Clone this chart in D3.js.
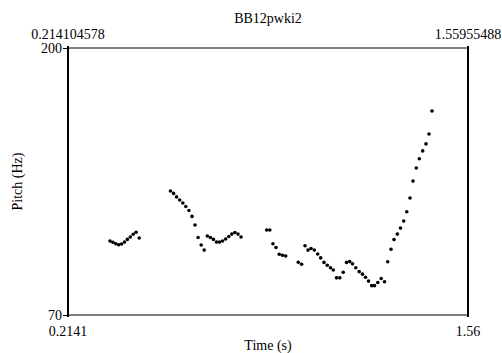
<!DOCTYPE html>
<html>
<head>
<meta charset="utf-8">
<script src="https://cdn.jsdelivr.net/npm/d3@7"></script>
<style>
  body { margin: 0; background: #fff; }
  svg text { font-family: "Liberation Serif", "Times New Roman", serif; font-size: 14px; fill: #000; }
  .axis path { display: none; }
  .axis line { stroke: #000; stroke-width: 1; }
</style>
</head>
<body>
<div id="chart"></div>
<script>
// pitch track (time in s, pitch in Hz)
const title = "BB12pwki2";
const timeRange = [0.214104578, 1.55955488];
const pitchRange = [70, 200];
const timeTickLabels = ["0.2141", "1.56"];
const pitchTicks = [70, 200];

const times = [
  0.3554, 0.3651, 0.3749, 0.3846, 0.3944, 0.4042, 0.4139, 0.4237, 0.4334, 0.4432, 0.4536,
  0.5589, 0.5693, 0.5794, 0.5898, 0.6003, 0.6103, 0.6208, 0.6312, 0.6413, 0.6517, 0.6621, 0.6722,
  0.6827, 0.6931, 0.7032, 0.7136, 0.7240, 0.7341, 0.7446, 0.7550, 0.7651, 0.7755, 0.7859, 0.7960,
  0.8825, 0.8929, 0.9036, 0.9137, 0.9245, 0.9356, 0.9464,
  0.9887, 0.9999, 1.0113, 1.0214, 1.0315, 1.0426, 1.0540, 1.0641, 1.0752, 1.0863, 1.0971,
  1.1065, 1.1172, 1.1283, 1.1398, 1.1509, 1.1616, 1.1711, 1.1822, 1.1936, 1.2047, 1.2148,
  1.2249, 1.2356, 1.2451, 1.2562, 1.2676, 1.2787, 1.2895, 1.3006, 1.3107, 1.3218, 1.3325,
  1.3433, 1.3537, 1.3645, 1.3746, 1.3857, 1.3958, 1.4072, 1.4183, 1.4284, 1.4385
];
const pitches = [
  106.0, 105.4, 104.7, 104.2, 104.6, 105.5, 106.8, 108.0, 109.3, 110.3, 107.5,
  130.4, 129.2, 127.5, 126.0, 124.5, 122.8, 120.9, 118.0, 113.8, 107.7, 104.1, 101.6,
  108.5, 107.7, 106.8, 105.5, 105.5, 106.0, 107.0, 108.2, 109.4, 110.2, 109.4, 108.0,
  111.4, 111.4, 104.7, 102.9, 99.6, 99.1, 98.7,
  95.7, 94.7, 103.7, 101.6, 102.4, 101.6, 99.7, 97.8, 95.6, 94.2, 93.0,
  91.9, 88.1, 88.1, 90.8, 95.6, 96.0, 94.9, 93.0, 91.1, 89.9, 88.4,
  86.5, 84.3, 84.3, 85.8, 87.8, 86.2, 95.9, 102.0, 106.7, 109.4, 112.3,
  115.8, 120.3, 127.0, 135.2, 141.6, 146.1, 149.9, 153.3, 158.1, 169.3
];

const margin = { top: 48, right: 34, bottom: 38, left: 68 };
const width = 502 - margin.left - margin.right;
const height = 353 - margin.top - margin.bottom;

const svg = d3.select("#chart")
  .append("svg")
  .attr("width", 502)
  .attr("height", 353);

const g = svg.append("g")
  .attr("transform", "translate(" + margin.left + "," + margin.top + ")");

const x = d3.scaleLinear().domain(timeRange).range([0, width]);
const y = d3.scaleLinear().domain(pitchRange).range([height, 0]);

// frame: thin top/bottom, heavier sides
g.selectAll(".hline")
  .data(pitchRange)
  .enter().append("line")
  .attr("class", "hline")
  .attr("x1", x(timeRange[0])).attr("x2", x(timeRange[1]))
  .attr("y1", d => y(d)).attr("y2", d => y(d))
  .attr("stroke", "#000").attr("stroke-width", 1);
g.selectAll(".side")
  .data(timeRange)
  .enter().append("line")
  .attr("class", "side")
  .attr("x1", d => x(d)).attr("x2", d => x(d))
  .attr("y1", y(pitchRange[1]) - 2).attr("y2", y(pitchRange[0]) + 2)
  .attr("stroke", "#000").attr("stroke-width", 2);

// y ticks
g.append("g")
  .attr("class", "axis axis--y")
  .call(d3.axisLeft(y).tickValues(pitchTicks).tickSize(5).tickPadding(1).tickFormat(d3.format("d")));

// time labels at top (exact) and bottom (rounded)
g.selectAll(".top-lab")
  .data(timeRange)
  .enter().append("text")
  .attr("class", "top-lab")
  .attr("x", d => x(d))
  .attr("y", -9)
  .attr("text-anchor", "middle")
  .text(d => d);

g.selectAll(".bot-lab")
  .data(timeRange)
  .enter().append("text")
  .attr("class", "bot-lab")
  .attr("x", d => x(d))
  .attr("y", height + 21)
  .attr("text-anchor", "middle")
  .text((d, i) => timeTickLabels[i]);

g.append("text")
  .attr("x", width / 2)
  .attr("y", -25)
  .attr("text-anchor", "middle")
  .text(title);

g.append("text")
  .attr("x", width / 2)
  .attr("y", height + 35)
  .attr("text-anchor", "middle")
  .text("Time (s)");

g.append("text")
  .attr("transform", "translate(" + (-46) + "," + (height / 2) + ") rotate(-90)")
  .attr("text-anchor", "middle")
  .text("Pitch (Hz)");

// pitch points
g.selectAll(".pt")
  .data(times)
  .enter().append("circle")
  .attr("class", "pt")
  .attr("cx", d => x(d))
  .attr("cy", (d, i) => y(pitches[i]))
  .attr("r", 1.8)
  .attr("fill", "#000");
</script>
</body>
</html>
